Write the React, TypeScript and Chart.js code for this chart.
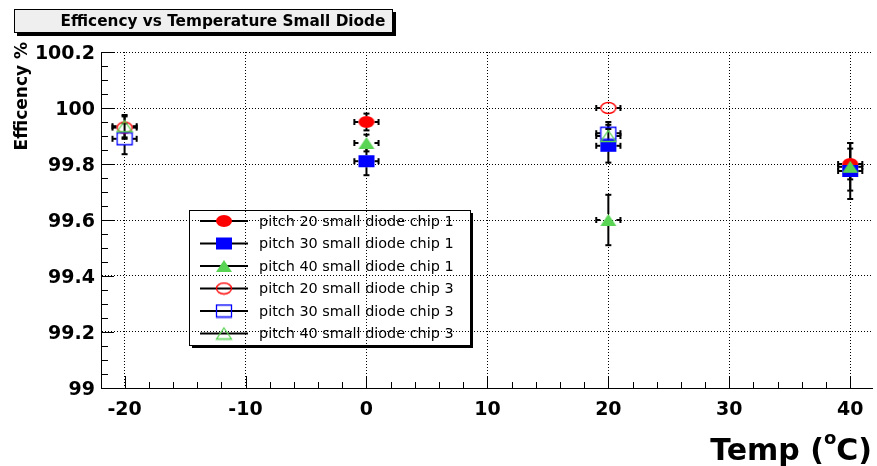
import React, { useEffect, useRef } from 'react';
import { Chart, registerables } from 'chart.js';

Chart.register(...registerables);

// ---------- data ----------
const xTicks = [-20, -10, 0, 10, 20, 30, 40];
const xTickLabels = ['-20', '-10', '0', '10', '20', '30', '40'];
const yTicks = [99, 99.2, 99.4, 99.6, 99.8, 100, 100.2];
const yTickLabels = ['99', '99.2', '99.4', '99.6', '99.8', '100', '100.2'];

const seriesLabels = [
  'pitch 20 small diode chip 1',
  'pitch 30 small diode chip 1',
  'pitch 40 small diode chip 1',
  'pitch 20 small diode chip 3',
  'pitch 30 small diode chip 3',
  'pitch 40 small diode chip 3',
];

const p20chip1Temp = [0, 40];
const p20chip1Eff = [99.95, 99.8];
const p20chip1Err = [0.03, 0.055];

const p30chip1Temp = [0, 20, 40];
const p30chip1Eff = [99.81, 99.865, 99.775];
const p30chip1Err = [0.05, 0.06, 0.1];

const p40chip1Temp = [0, 20, 40];
const p40chip1Eff = [99.875, 99.6, 99.79];
const p40chip1Err = [0.03, 0.09, 0.085];

const p20chip3Temp = [-20, 20];
const p20chip3Eff = [99.93, 100.0];
const p20chip3Err = [0.04, 0];

const p30chip3Temp = [-20, 20];
const p30chip3Eff = [99.89, 99.91];
const p30chip3Err = [0.055, 0.04];

const p40chip3Temp = [-20, 20];
const p40chip3Eff = [99.935, 99.9];
const p40chip3Err = [0.04, 0.04];

const tempErr = 1.0;

const titleText = 'Efficency vs Temperature Small Diode';
const yTitle = 'Efficency %';

// ---------- styling helpers ----------
const RED = '#ff0000';
const BLUE = '#0000ff';
const GREEN = '#59d454';
const MW = 16;
const MH = 12;

function makeMarker(shape: string, filled: boolean, color: string, w: number, h: number) {
  const c = document.createElement('canvas');
  c.width = w + 2;
  c.height = h + 2;
  const ctx = c.getContext('2d')!;
  const cx = c.width / 2;
  const cy = c.height / 2;
  const iw = filled ? w : w - 1;
  const ih = filled ? h : h - 1;
  ctx.beginPath();
  if (shape === 'circle') {
    ctx.ellipse(cx, cy, iw / 2, ih / 2, 0, 0, Math.PI * 2);
  } else if (shape === 'square') {
    ctx.rect(cx - iw / 2, cy - ih / 2, iw, ih);
  } else {
    ctx.moveTo(cx, cy - ih / 2);
    ctx.lineTo(cx + iw / 2, cy + ih / 2);
    ctx.lineTo(cx - iw / 2, cy + ih / 2);
    ctx.closePath();
  }
  if (filled) {
    ctx.fillStyle = color;
    ctx.fill();
  } else {
    ctx.strokeStyle = color;
    ctx.lineWidth = 1.3;
    ctx.stroke();
  }
  return c;
}

function pts(t: number[], e: number[], err: number[]) {
  return t.map((v, i) => ({ x: v, y: e[i], ex: tempErr, ey: err[i] }));
}

const errorBarPlugin = {
  id: 'errorBars',
  beforeDatasetsDraw(chart: any) {
    const { ctx } = chart;
    const x = chart.scales.x;
    const y = chart.scales.y;
    ctx.save();
    ctx.strokeStyle = '#000';
    ctx.lineWidth = 2;
    const seg = (x1: number, y1: number, x2: number, y2: number) => {
      ctx.beginPath();
      ctx.moveTo(x1, y1);
      ctx.lineTo(x2, y2);
      ctx.stroke();
    };
    chart.data.datasets.forEach((ds: any) => {
      const hw = ds.mw / 2;
      const hh = ds.mh / 2;
      ds.data.forEach((p: any) => {
        const px = x.getPixelForValue(p.x);
        const py = y.getPixelForValue(p.y);
        const yt = y.getPixelForValue(p.y + p.ey);
        const yb = y.getPixelForValue(p.y - p.ey);
        const xl = x.getPixelForValue(p.x - p.ex);
        const xr = x.getPixelForValue(p.x + p.ex);
        if (py - yt > hh) {
          seg(px, py - hh, px, yt);
          seg(px - 3, yt, px + 3, yt);
          seg(px, py + hh, px, yb);
          seg(px - 3, yb, px + 3, yb);
        }
        if (px - xl > hw) {
          seg(px - hw, py, xl, py);
          seg(xl, py - 3, xl, py + 3);
          seg(px + hw, py, xr, py);
          seg(xr, py - 3, xr, py + 3);
        }
      });
    });
    ctx.restore();
  },
};

const axisTicksPlugin = {
  id: 'axisTicks',
  beforeDatasetsDraw(chart: any) {
    const { ctx, chartArea } = chart;
    const x = chart.scales.x;
    const y = chart.scales.y;
    ctx.save();
    ctx.strokeStyle = '#000';
    ctx.lineWidth = 1;
    for (let v = y.min; v <= y.max + 1e-9; v += 0.05) {
      const py = Math.round(y.getPixelForValue(v)) + 0.5;
      const major = Math.abs(Math.round(v * 5) - v * 5) < 1e-6;
      ctx.beginPath();
      ctx.moveTo(chartArea.left, py);
      ctx.lineTo(chartArea.left + (major ? 13 : 7), py);
      ctx.stroke();
    }
    for (let v = Math.ceil(x.min / 2) * 2; v <= x.max; v += 2) {
      const px = Math.round(x.getPixelForValue(v)) + 0.5;
      const major = v % 10 === 0;
      ctx.beginPath();
      ctx.moveTo(px, chartArea.bottom);
      ctx.lineTo(px, chartArea.bottom - (major ? 12 : 6));
      ctx.stroke();
    }
    ctx.restore();
  },
};

const decorPlugin = {
  id: 'decor',
  afterDraw(chart: any) {
    const { ctx } = chart;
    ctx.save();
    // title box
    ctx.fillStyle = '#000';
    ctx.fillRect(17, 12, 379, 24);
    ctx.fillStyle = '#efefef';
    ctx.fillRect(14, 9, 379, 24);
    ctx.strokeStyle = '#000';
    ctx.lineWidth = 1;
    ctx.strokeRect(14.5, 9.5, 378, 23);
    ctx.fillStyle = '#000';
    ctx.font = 'bold 15.3px "DejaVu Sans"';
    ctx.textAlign = 'center';
    ctx.textBaseline = 'alphabetic';
    ctx.fillText(titleText, 223, 26);

    // y title
    ctx.save();
    ctx.translate(27, 42);
    ctx.rotate(-Math.PI / 2);
    ctx.font = 'bold 17px "DejaVu Sans"';
    ctx.textAlign = 'right';
    ctx.textBaseline = 'alphabetic';
    ctx.fillText(yTitle, 0, 0);
    ctx.restore();

    // x title: Temp (°C) with superscript o
    const big = 'bold 30px "DejaVu Sans"';
    const small = 'bold 18px "DejaVu Sans"';
    ctx.textAlign = 'left';
    ctx.font = big;
    const w1 = ctx.measureText('Temp (').width;
    const w3 = ctx.measureText('C)').width;
    ctx.font = small;
    const w2 = ctx.measureText('o').width;
    const right = 872;
    let xs = right - (w1 + w2 + w3);
    const base = 460;
    ctx.font = big;
    ctx.fillText('Temp (', xs, base);
    xs += w1;
    ctx.font = small;
    ctx.fillText('o', xs, base - 16);
    xs += w2;
    ctx.font = big;
    ctx.fillText('C)', xs, base);

    // legend
    const lx = 189, ly = 210, lw = 281, lh = 135;
    ctx.fillStyle = '#000';
    ctx.fillRect(lx + lw, ly + 3, 3, lh);
    ctx.fillRect(lx + 3, ly + lh, lw, 3);
    ctx.strokeStyle = '#000';
    ctx.lineWidth = 1;
    ctx.strokeRect(lx + 0.5, ly + 0.5, lw, lh);
    ctx.font = '14.4px "DejaVu Sans"';
    ctx.textBaseline = 'middle';
    ctx.textAlign = 'left';
    chart.data.datasets.forEach((ds: any, i: number) => {
      const ry = 221 + i * 22.5;
      ctx.strokeStyle = '#000';
      ctx.lineWidth = 2;
      ctx.beginPath();
      ctx.moveTo(200, ry);
      ctx.lineTo(248, ry);
      ctx.stroke();
      const img = ds.pointStyle;
      ctx.drawImage(img, 224 - img.width / 2, ry - img.height / 2);
      ctx.fillStyle = '#000';
      ctx.fillText(seriesLabels[i], 259, ry + 1);
    });
    ctx.restore();
  },
};

export default function App() {
  const ref = useRef<HTMLCanvasElement | null>(null);
  useEffect(() => {
    if (!ref.current) return;
    const markers = [
      makeMarker('circle', true, RED, MW, MH),
      makeMarker('square', true, BLUE, MW, MH),
      makeMarker('triangle', true, GREEN, MW, MH),
      makeMarker('circle', false, RED, MW, MH),
      makeMarker('square', false, BLUE, MW, MH + 1),
      makeMarker('triangle', false, GREEN, MW, MH),
    ];
    const series = [
      pts(p20chip1Temp, p20chip1Eff, p20chip1Err),
      pts(p30chip1Temp, p30chip1Eff, p30chip1Err),
      pts(p40chip1Temp, p40chip1Eff, p40chip1Err),
      pts(p20chip3Temp, p20chip3Eff, p20chip3Err),
      pts(p30chip3Temp, p30chip3Eff, p30chip3Err),
      pts(p40chip3Temp, p40chip3Eff, p40chip3Err),
    ];
    const datasets: any[] = series.map((data, i) => ({
      label: seriesLabels[i],
      data,
      pointStyle: markers[i],
      pointRadius: 8,
      showLine: false,
      order: 5 - i,
      mw: MW,
      mh: MH,
    }));

    const chart = new Chart(ref.current, {
      type: 'scatter',
      data: { datasets },
      plugins: [axisTicksPlugin, errorBarPlugin, decorPlugin],
      options: {
        responsive: false,
        animation: false,
        events: [],
        layout: { autoPadding: false, padding: { top: 52, left: 0, right: 5, bottom: 0 } },
        plugins: {
          legend: { display: false },
          tooltip: { enabled: false },
          title: { display: false },
        },
        scales: {
          x: {
            type: 'linear',
            min: -21.95,
            max: 41.8,
            afterFit: (s: any) => {
              s.height = 78;
              s.paddingLeft = 0;
              s.paddingRight = 0;
            },
            afterBuildTicks: (s: any) => {
              s.ticks = xTicks.map((v) => ({ value: v }));
            },
            ticks: {
              autoSkip: false,
              maxRotation: 0,
              minRotation: 0,
              padding: 11,
              color: '#000',
              font: { family: 'DejaVu Sans', weight: 'bold', size: 19 },
              callback: (_v: any, i: number) => xTickLabels[i],
            },
            grid: { color: '#000', lineWidth: 1, drawTicks: false },
            border: { display: true, color: '#000', width: 1, dash: [1, 2] },
          },
          y: {
            type: 'linear',
            min: 99,
            max: 100.2,
            afterFit: (s: any) => {
              s.width = 101;
              s.paddingTop = 0;
              s.paddingBottom = 0;
            },
            afterBuildTicks: (s: any) => {
              s.ticks = yTicks.map((v) => ({ value: v }));
            },
            ticks: {
              autoSkip: false,
              padding: 6,
              labelOffset: 2,
              color: '#000',
              font: { family: 'DejaVu Sans', weight: 'bold', size: 19 },
              callback: (_v: any, i: number) => yTickLabels[i],
            },
            grid: { color: '#000', lineWidth: 1, drawTicks: false },
            border: { display: true, color: '#000', width: 1, dash: [1, 2] },
          },
        },
      } as any,
    });
    return () => chart.destroy();
  }, []);

  return (
    <div style={{ position: 'absolute', left: 0, top: 0, width: 877, height: 466, background: '#fff' }}>
      <canvas ref={ref} width={877} height={466} style={{ width: 877, height: 466, display: 'block' }} />
    </div>
  );
}
